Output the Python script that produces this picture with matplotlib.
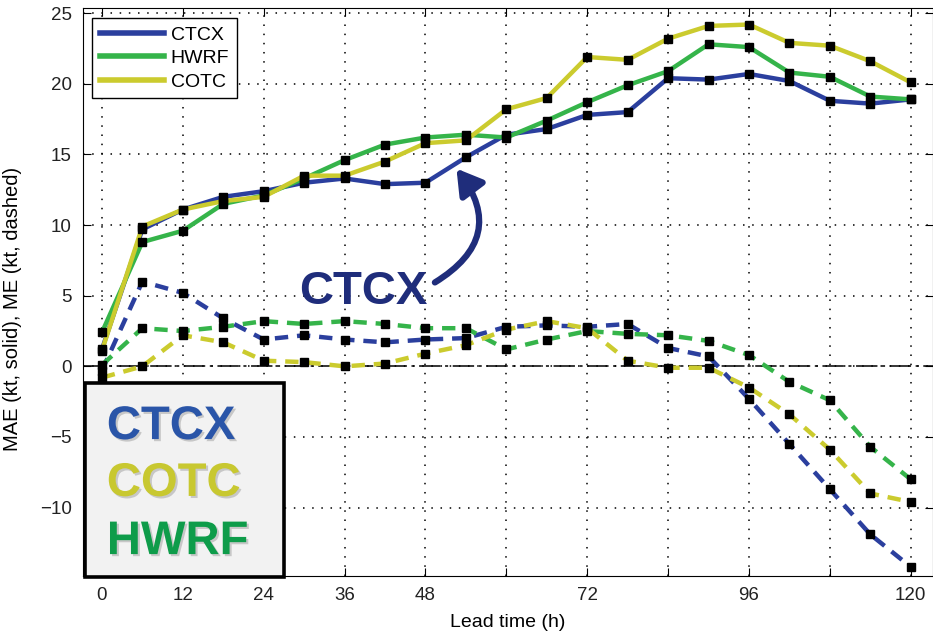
import matplotlib
matplotlib.use("Agg")
import matplotlib.pyplot as plt
import matplotlib.patheffects as pe
from matplotlib.patches import Rectangle

plt.rcParams['font.family'] = ['Liberation Sans', 'DejaVu Sans']

# lead times (h)
lead = [0, 6, 12, 18, 24, 30, 36, 42, 48, 54, 60, 66, 72, 78, 84, 90, 96, 102, 108, 114, 120]

# mean absolute error (solid)
ctcx_mae = [1.2, 9.7, 11.1, 12.0, 12.4, 13.0, 13.3, 12.9, 13.0, 14.8, 16.4, 16.8, 17.8, 18.0, 20.4, 20.3, 20.7, 20.2, 18.8, 18.6, 18.9]
hwrf_mae = [2.4, 8.8, 9.6, 11.5, 12.1, 13.3, 14.6, 15.7, 16.2, 16.4, 16.2, 17.4, 18.7, 19.9, 20.9, 22.8, 22.6, 20.8, 20.5, 19.1, 18.9]
cotc_mae = [1.1, 9.9, 11.1, 11.7, 12.0, 13.5, 13.5, 14.5, 15.8, 16.0, 18.2, 19.0, 21.9, 21.7, 23.2, 24.1, 24.2, 22.9, 22.7, 21.6, 20.1]

# mean error (dashed)
ctcx_me = [-0.3, 6.0, 5.2, 3.4, 1.9, 2.2, 1.9, 1.7, 1.9, 2.0, 2.8, 2.9, 2.8, 3.0, 1.3, 0.7, -2.3, -5.5, -8.7, -11.9, -14.2]
hwrf_me = [0.1, 2.7, 2.5, 2.8, 3.2, 3.0, 3.2, 3.0, 2.7, 2.7, 1.2, 1.9, 2.5, 2.3, 2.2, 1.8, 0.8, -1.1, -2.4, -5.7, -8.0]
cotc_me = [-0.8, 0.0, 2.2, 1.7, 0.4, 0.3, 0.0, 0.2, 0.9, 1.5, 2.6, 3.2, 2.7, 0.4, -0.1, -0.1, -1.5, -3.4, -5.9, -9.0, -9.6]

models = ['CTCX', 'HWRF', 'COTC']
colors = {'CTCX': '#2b3f9e', 'HWRF': '#35b44a', 'COTC': '#cbcb2e'}
mae = {'CTCX': ctcx_mae, 'HWRF': hwrf_mae, 'COTC': cotc_mae}
me = {'CTCX': ctcx_me, 'HWRF': hwrf_me, 'COTC': cotc_me}

fig = plt.figure(figsize=(9.33, 6.31), dpi=100)
ax = fig.add_axes([0.089, 0.087, 0.911, 0.901])

# zero line
ax.axhline(0, color='black', lw=1.1, dashes=(14, 3, 2, 3), zorder=1.5)

for m in models:
    ax.plot(lead, mae[m], color=colors[m], lw=3.2, label=m, zorder=3)
for m in models:
    ax.plot(lead, me[m], color=colors[m], lw=3.2, dashes=(3, 2), zorder=3)
for m in models:
    ax.plot(lead, mae[m], ls='none', marker='s', ms=6.3, color='black', zorder=4)
    ax.plot(lead, me[m], ls='none', marker='s', ms=6.3, color='black', zorder=4)

ax.set_xlim(-2.8, 123.3)
ax.set_ylim(-14.85, 25.4)
ax.set_xticks([0, 12, 24, 36, 48, 60, 72, 84, 96, 108, 120])
ax.set_xticklabels(['0', '12', '24', '36', '48', '', '72', '', '96', '', '120'])
ax.set_yticks([-10, -5, 0, 5, 10, 15, 20, 25])
ax.tick_params(direction='in', top=True, right=True, length=6, labelsize=13.5,
               labelcolor='#222222', pad=8)
ax.grid(True, color='black', lw=1.1, linestyle=(0, (1, 5)))

ax.set_xlabel('Lead time (h)', fontsize=14)
ax.set_ylabel('MAE (kt, solid), ME (kt, dashed)', fontsize=14.5)
ax.xaxis.set_label_coords(0.5, -0.066)
ax.yaxis.set_label_coords(-0.072, 0.47)

leg = ax.legend(loc='upper left', bbox_to_anchor=(0.0106, 0.981), borderaxespad=0,
                fontsize=14, handlelength=3.3, handletextpad=0.35, labelspacing=0.3,
                fancybox=False, framealpha=1, edgecolor='black')
leg.get_frame().set_linewidth(1.0)
for line in leg.get_lines():
    line.set_linewidth(4)

# annotation with curved arrow
ax.text(29.2, 4.38, 'CTCX', color='#1f2d7b', fontsize=34, fontweight='bold', zorder=6)
ax.annotate('', xy=(52.6, 14.0), xytext=(49.4, 5.94),
            arrowprops=dict(arrowstyle='-|>,head_length=0.5,head_width=0.3',
                            color='#1f2d7b', lw=4.5, mutation_scale=30,
                            connectionstyle='arc3,rad=0.55', shrinkA=0, shrinkB=0),
            zorder=6)

# box with model names
box = Rectangle((0.0024, -0.002), 0.234, 0.341, transform=ax.transAxes,
                facecolor='#f2f2f2', edgecolor='black', lw=2.6, zorder=8, clip_on=False)
ax.add_patch(box)
shadow = [pe.withSimplePatchShadow(offset=(1.5, -1.5), shadow_rgbFace='#777777', alpha=0.35)]
box_labels = ['CTCX', 'COTC', 'HWRF']
box_colors = ['#2a55a8', '#c8c830', '#0e9c4a']
box_y = [0.241, 0.141, 0.0387]
for lab, c, y in zip(box_labels, box_colors, box_y):
    ax.text(0.028, y, lab, transform=ax.transAxes, color=c, fontsize=34,
            fontweight='bold', va='baseline', zorder=9, path_effects=shadow)

fig.savefig('out.png', dpi=100)
